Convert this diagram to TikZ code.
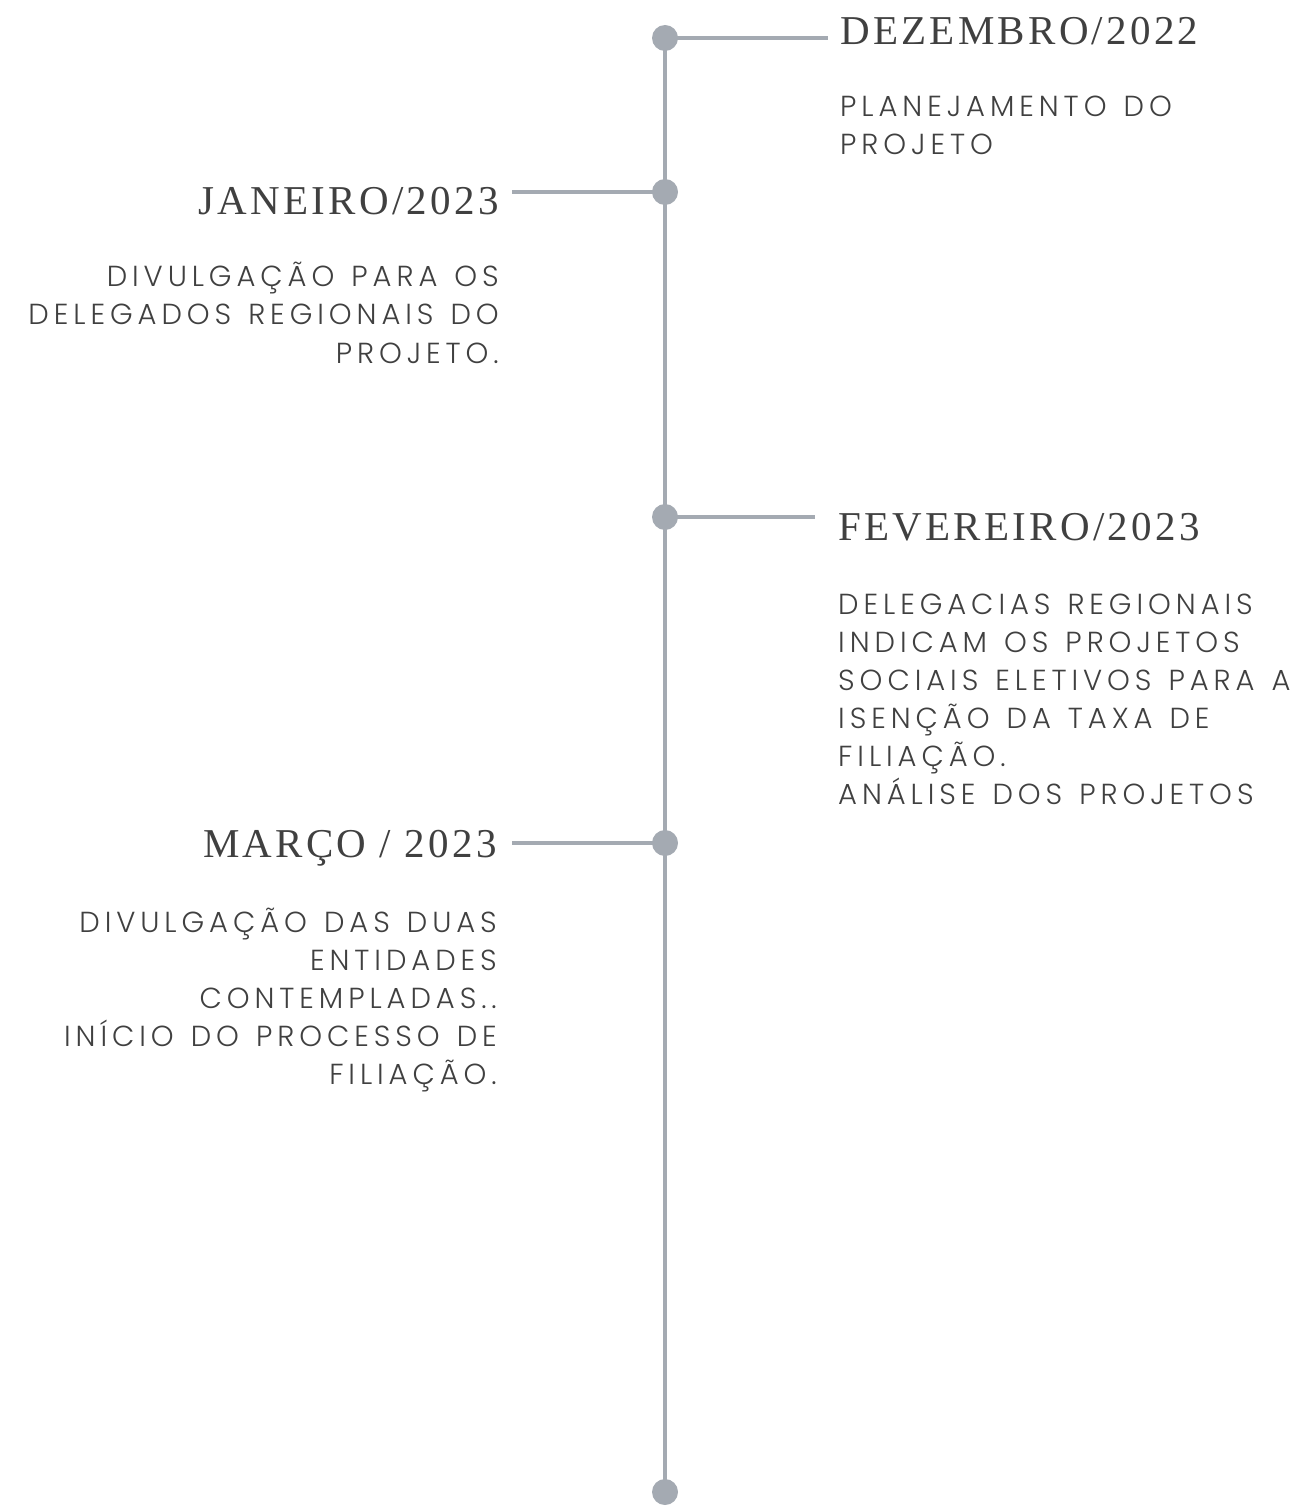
\documentclass[tikz,border=0pt]{standalone}
\usepackage{fontspec}
\setmainfont{Liberation Serif}
\newfontfamily\headfont[LetterSpace=8]{Liberation Serif}
\IfFontExistsTF{Poppins Light}
  {\newfontfamily\bodyfont[LetterSpace=17]{Poppins Light}}
  {\newfontfamily\bodyfont[LetterSpace=17]{Poppins}}
\newcommand\widegaps{\spaceskip=17pt\relax}
\usepackage{tikz}
\definecolor{stemgray}{RGB}{164,170,178}
\definecolor{inkgray}{RGB}{64,64,64}

\tikzset{
  milestone/.style={circle, fill=stemgray, inner sep=0pt, minimum size=26pt},
  stem/.style={draw=stemgray, line width=4pt},
  month/.style={font=\headfont\fontsize{41}{46}\selectfont, text=inkgray, inner sep=0pt},
  task/.style={font=\bodyfont\fontsize{29}{38}\selectfont, text=inkgray, inner sep=0pt,
    execute at begin node=\widegaps}
}

\begin{document}
\begin{tikzpicture}[x=1pt,y=-1pt]
\useasboundingbox (0,0) rectangle (1300,1506);

% timeline
\node[milestone] (m0) at (665,38) {};
\node[milestone] (m1) at (665,192) {};
\node[milestone] (m2) at (665,517) {};
\node[milestone] (m3) at (665,843) {};
\node[milestone] (m4) at (665,1492) {};
\draw[stem] (m0.center) -- (m4.center);

% ticks
\coordinate (k0) at (828,38);
\coordinate (k1) at (512,192);
\coordinate (k2) at (815,517);
\coordinate (k3) at (512,843);
\draw[stem] (m0.center) -- (k0);
\draw[stem] (m1.center) -- (k1);
\draw[stem] (m2.center) -- (k2);
\draw[stem] (m3.center) -- (k3);

% months
\node[month, anchor=base west] (h0) at (840,45) {DEZEMBRO/2022};
\node[month, anchor=base east] (h1) at (499,215) {JANEIRO/2023};
\node[month, anchor=base west] (h2) at (838,540) {FEVEREIRO/2023};
\node[month, anchor=base east] (h3) at (497,857) {MARÇO / 2023};

% tasks
\node[task, anchor=base west, text width=560pt, align=left] (t0) at (840,117)
  {PLANEJAMENTO DO\\PROJETO};
\node[task, anchor=base east, text width=560pt, align=right] (t1) at (499,287)
  {DIVULGAÇÃO PARA OS\\DELEGADOS REGIONAIS DO\\PROJETO.};
\node[task, anchor=base west, text width=560pt, align=left] (t2) at (838,614)
  {DELEGACIAS REGIONAIS\\INDICAM OS PROJETOS\\SOCIAIS ELETIVOS PARA A\\ISENÇÃO DA TAXA DE\\FILIAÇÃO.\\ANÁLISE DOS PROJETOS};
\node[task, anchor=base east, text width=560pt, align=right] (t3) at (497,932)
  {DIVULGAÇÃO DAS DUAS\\ENTIDADES\\CONTEMPLADAS..\\INÍCIO DO PROCESSO DE\\FILIAÇÃO.};
\end{tikzpicture}
\end{document}
